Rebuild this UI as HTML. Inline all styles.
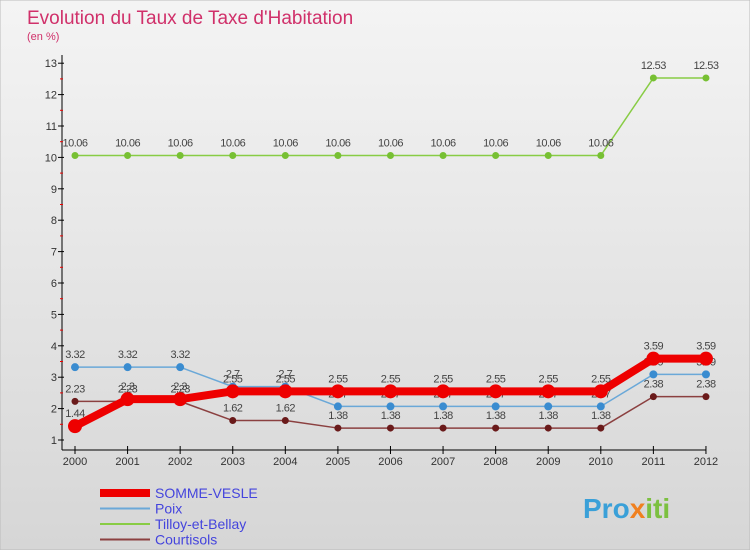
<!DOCTYPE html>
<html><head><meta charset="utf-8"><style>
body{margin:0;width:750px;height:550px;overflow:hidden;font-family:"Liberation Sans",sans-serif}
svg text{font-family:"Liberation Sans",sans-serif}
</style></head><body>
<svg id="c" width="750" height="550">
<defs><linearGradient id="bg" x1="0" y1="0" x2="0" y2="1"><stop offset="0" stop-color="#f4f4f4"/><stop offset="1" stop-color="#d6d6d6"/></linearGradient></defs>
<rect width="750" height="550" fill="url(#bg)" stroke="#bbb"/>
<text x="27" y="24" font-size="19" fill="#d0306a">Evolution du Taux de Taxe d'Habitation</text>
<text x="27" y="40" font-size="11" fill="#d0306a">(en %)</text>
<g id="axes"></g><g id="series"></g><g id="legend"></g>
<text x="583" y="518" font-size="28" font-weight="bold" fill="#3aa0d8">Pro<tspan fill="#f08020">x</tspan><tspan fill="#7cc040">iti</tspan></text>
</svg>
<script>
const years=[2000,2001,2002,2003,2004,2005,2006,2007,2008,2009,2010,2011,2012];
const sommeVesle=[1.44,2.3,2.3,2.55,2.55,2.55,2.55,2.55,2.55,2.55,2.55,3.59,3.59];
const poix=[3.32,3.32,3.32,2.7,2.7,2.07,2.07,2.07,2.07,2.07,2.07,3.09,3.09];
const tilloy=[10.06,10.06,10.06,10.06,10.06,10.06,10.06,10.06,10.06,10.06,10.06,12.53,12.53];
const courtisols=[2.23,2.23,2.23,1.62,1.62,1.38,1.38,1.38,1.38,1.38,1.38,2.38,2.38];
const yTicks=[1,2,3,4,5,6,7,8,9,10,11,12,13];
const NS="http://www.w3.org/2000/svg";
const xs=i=>75+i*52.58, ys=v=>440-(v-1)*31.4;
function mk(p,t,a){const e=document.createElementNS(NS,t);for(const k in a)e.setAttribute(k,a[k]);p.appendChild(e);return e;}
const ax=document.getElementById('axes');
let l=mk(ax,'line',{x1:62,y1:55,x2:62,y2:450,stroke:'#000'});


l=mk(ax,'line',{x1:62,y1:450,x2:706,y2:450,stroke:'#000'});


yTicks.forEach(v=>{const y=ys(v);
 mk(ax,'line',{x1:58,y1:y,x2:64,y2:y,stroke:'#000'});
 if(v<13)mk(ax,'line',{x1:60,y1:y-15.7,x2:63,y2:y-15.7,stroke:'#e00'});
 const t=mk(ax,'text',{x:57,y:y+4,'font-size':11,fill:'#333','text-anchor':'end'});t.textContent=v;
 
 });
years.forEach((yr,i)=>{const x=xs(i);
 mk(ax,'line',{x1:x,y1:446,x2:x,y2:454,stroke:'#000'});
 const t=mk(ax,'text',{x:x,y:465,'font-size':11,fill:'#333','text-anchor':'middle'});t.textContent=yr;
 
 });
const S=[
 {n:'Tilloy-et-Bellay',d:tilloy,c:'#88cc44',w:1.5,r:3.5,dot:'#77c033'},
 {n:'Courtisols',d:courtisols,c:'#8b4040',w:1.5,r:3.5,dot:'#6a1a1a'},
 {n:'Poix',d:poix,c:'#6aa8d8',w:1.5,r:4,dot:'#3a8cd0'},
 {n:'SOMME-VESLE',d:sommeVesle,c:'#ee0000',w:8,r:7,dot:'#ee0000'}];
const sg=document.getElementById('series');
S.forEach(s=>{const g=mk(sg,'g',{});
 
 
 mk(g,'polyline',{points:s.d.map((v,i)=>xs(i)+','+ys(v)).join(' '),fill:'none',stroke:s.c,'stroke-width':s.w,'stroke-linejoin':'round'});
 s.d.forEach((v,i)=>{const c=mk(g,'circle',{cx:xs(i),cy:ys(v),r:s.r,fill:s.dot});
  
  
  const t=mk(g,'text',{x:xs(i),y:ys(v)-9,'font-size':11,fill:'#444','text-anchor':'middle','letter-spacing':'-0.5'});t.textContent=v;
  
  });});
const lg=document.getElementById('legend');
[{n:'SOMME-VESLE',c:'#ee0000',w:8},{n:'Poix',c:'#6aa8d8',w:2},{n:'Tilloy-et-Bellay',c:'#88cc44',w:2},{n:'Courtisols',c:'#8b4040',w:2}].forEach((e,i)=>{
 const y=493+i*15.5;const g=mk(lg,'g',{});
 
 
 mk(g,'line',{x1:100,y1:y,x2:150,y2:y,stroke:e.c,'stroke-width':e.w});
 const t=mk(g,'text',{x:155,y:y+5,'font-size':14,fill:'#4444dd'});t.textContent=e.n;});
</script>
</body></html>
